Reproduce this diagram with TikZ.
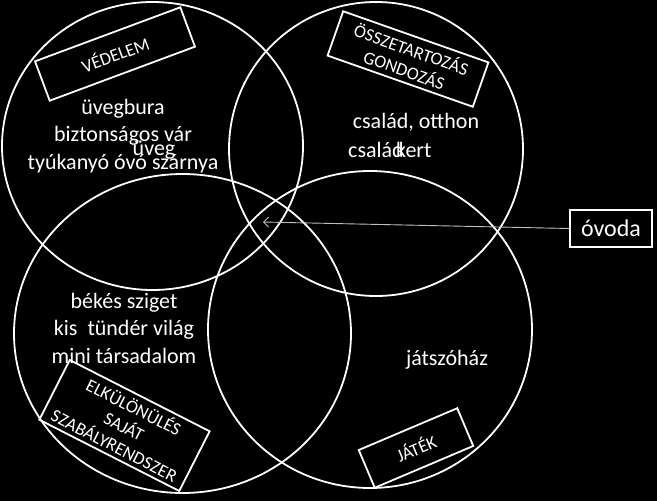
\documentclass[tikz,border=0pt]{standalone}
\usepackage{fontspec}
\setmainfont{Carlito}
\usetikzlibrary{arrows.meta,shapes.geometric}
\begin{document}
\begin{tikzpicture}[x=1pt,y=-1pt,
  ring/.style={draw=white,line width=1.8pt,ellipse,inner sep=0pt},
  txt/.style={text=white,font=\fontsize{22}{27.5}\selectfont,align=center,inner sep=0pt},
  lbl/.style={draw=white,line width=1.8pt,text=white,font=\fontsize{18}{21.5}\selectfont,align=center,inner sep=0pt},
  arr/.style={draw=gray!50!white,line width=0.9pt,-{Straight Barb[length=5pt,width=10pt]}}]
\useasboundingbox (0,0) rectangle (657,501);
\fill[black] (0,0) rectangle (657,501);
% circles
\node[ring,minimum width=301pt,minimum height=288pt] (c1) at (152.5,146) {};
\node[ring,minimum width=294pt,minimum height=294pt] (c2) at (376,149) {};
\node[ring,minimum width=337pt,minimum height=319pt] (c3) at (182.5,333.5) {};
\node[ring,minimum width=324pt,minimum height=317pt] (c4) at (370,329.5) {};
% texts
\node[txt] (t1) at (123,136) {üvegbura\\biztonságos vár\\tyúkanyó óvó szárnya};
\node[txt] (t1b) at (154,150) {üveg};
\node[txt] (t2) at (416,122) {család, otthon};
\node[txt,anchor=base west] (t2b) at (348,157) {család};
\node[txt,anchor=base west] (t2c) at (396,157) {kert};
\node[txt] (t3) at (124,328) {békés sziget\\kis\ \ tündér világ\\mini társadalom};
\node[txt] (t4) at (447,360) {játszóház};
% label boxes
\node[lbl,minimum width=155pt,minimum height=42pt,rotate=20.4] (l1) at (115,54) {VÉDELEM};
\node[lbl,minimum width=154pt,minimum height=47pt,rotate=-19.4] (l2) at (408,59) {ÖSSZETARTOZÁS\\GONDOZÁS};
\node[lbl,minimum width=157pt,minimum height=67pt,rotate=-27] (l3) at (124.5,425.5) {ELKÜLÖNÜLÉS\\SAJÁT\\SZABÁLYRENDSZER};
\node[lbl,minimum width=107pt,minimum height=41pt,rotate=23] (l4) at (416,448) {JÁTÉK};
% ovoda
\node[draw=white,line width=1.5pt,text=white,font=\fontsize{24}{28}\selectfont,minimum width=82pt,minimum height=37pt,inner sep=0pt] (ov) at (611,228.5) {óvoda};
\coordinate (tip) at (263,222);
\draw[arr] (ov.west) -- (tip);
\end{tikzpicture}
\end{document}
